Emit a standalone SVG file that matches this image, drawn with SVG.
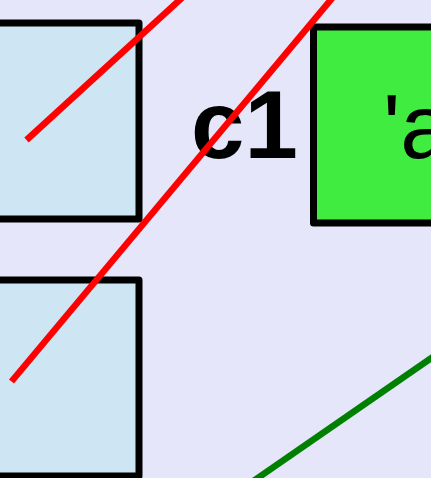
<svg xmlns="http://www.w3.org/2000/svg" width="431" height="478" viewBox="0 0 431 478">
<style>
.box{fill:#cee6f3;stroke:#000;stroke-width:7;stroke-linejoin:round}
.gbox{fill:#40ec40;stroke:#000;stroke-width:7;stroke-linejoin:round}
.lbl{font-family:"Liberation Sans",Arial,sans-serif;fill:#000}
.edge{fill:none;stroke-width:6.5}
</style>
<rect x="0" y="0" width="431" height="478" fill="#e6e6fa"/>
<g id="node1"><rect class="box" x="-100" y="23" width="239" height="196"/></g>
<g id="node2"><rect class="box" x="-100" y="280" width="239" height="196"/></g>
<g id="node3"><rect class="gbox" x="313.5" y="27" width="200" height="196"/><text class="lbl" x="383" y="158" font-size="91">'a</text></g>
<g id="label-c1"><text class="lbl" x="191" y="158" font-size="96" font-weight="bold">c1</text></g>
<g id="connectors">
<line class="edge" stroke="#ff0000" x1="26.5" y1="140" x2="184" y2="-4"/>
<line class="edge" stroke="#ff0000" x1="11.5" y1="381.5" x2="334" y2="-4"/>
<line class="edge" stroke="#008000" x1="252" y1="482" x2="440" y2="352"/>
</g>
</svg>
